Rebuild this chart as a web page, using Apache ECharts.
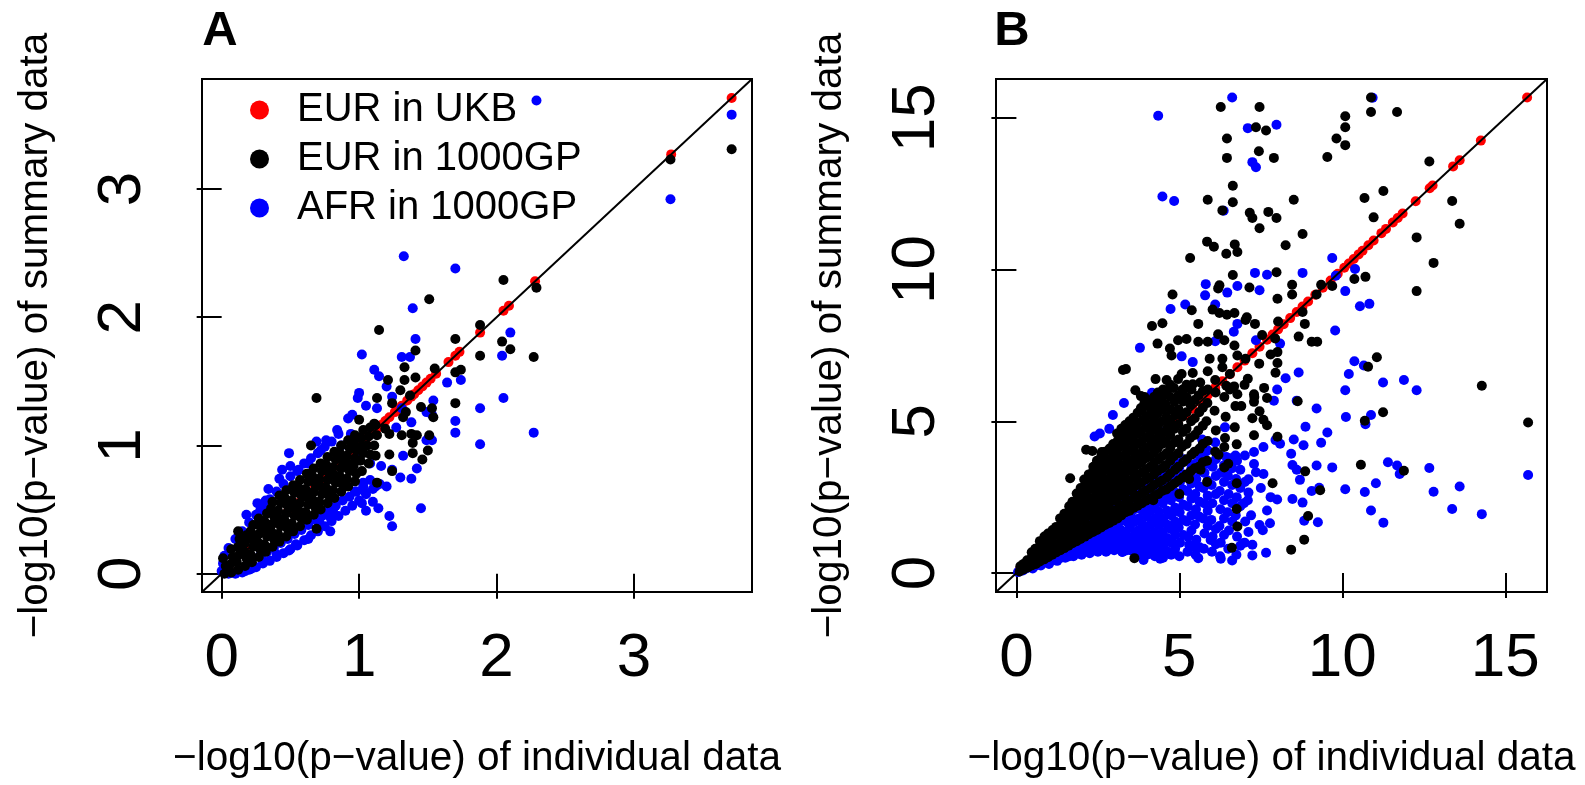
<!DOCTYPE html>
<html><head><meta charset="utf-8">
<script src="https://cdn.jsdelivr.net/npm/echarts@6/dist/echarts.min.js"></script>
<style>html,body{margin:0;padding:0;background:#fff}#c{width:1585px;height:785px}</style>
</head><body><div id="c"></div>
<script>
// ---------- axis ranges & ticks ----------
const rangeA = [-0.143, 3.858];
const rangeB = [-0.626, 16.28];
const ticksA = [0, 1, 2, 3];
const ticksB = [0, 5, 10, 15];
const seriesNames = ['EUR in UKB', 'EUR in 1000GP', 'AFR in 1000GP'];
const xTitle = '\u2212log10(p\u2212value) of individual data';
const yTitle = '\u2212log10(p\u2212value) of summary data';

// ---------- Panel A data ----------
// EUR in UKB: summary equals individual (y = x)
const redA = [3.71,3.27,2.28,2.09,2.05,1.88,1.73,1.70,1.65,1.56,1.52,1.49,1.46,1.43,1.40,1.38,1.35,1.31,1.28,1.26,1.22,1.19,1.16,1.14,1.10,1.05,1.0,0.95,0.9,0.85,0.8,0.74,0.68,0.62,0.55,0.48,0.4,0.33,0.25,0.18,0.1,0.05,0.02];
const blackOutA = [
[3.71,3.31],[3.265,3.23],[2.05,2.29],[2.29,2.23],[1.51,2.14],[1.145,1.90],[1.88,1.94],[1.70,1.83],[2.04,1.81],[2.10,1.75],[1.88,1.70],[2.27,1.69],[1.33,1.61],[1.55,1.60],[1.70,1.57],[1.74,1.59],[1.41,1.74],[1.21,1.51],[1.33,1.51],[1.41,1.53],[1.30,1.43],[1.37,1.39],[0.69,1.37],[1.13,1.37],[1.24,1.33],[1.70,1.33],[1.53,1.29],[1.54,1.22],[1.45,1.30],[1.34,1.26],[1.32,1.22],[1.00,1.20],[1.11,1.17],[1.19,1.13],[1.22,1.09],[1.31,1.08],[1.38,1.09],[1.42,1.08],[1.51,1.08],[1.50,0.96],[1.39,1.02],[1.39,0.94],[1.46,0.89],[1.22,0.93],[1.24,0.80],[1.13,0.71],[0.65,1.00],[0.69,0.35],[0.12,0.33]
];
const blackCoreA = [
[0.02,0.0],[0.03,0.06],[0.01,0.12],
[0.07,0.01],[0.06,0.07],[0.08,0.13],[0.07,0.19],
[0.12,0.03],[0.11,0.09],[0.13,0.15],[0.12,0.21],[0.13,0.27],
[0.17,0.06],[0.18,0.12],[0.16,0.18],[0.17,0.24],[0.18,0.3],
[0.22,0.09],[0.21,0.15],[0.23,0.21],[0.22,0.27],[0.21,0.33],[0.23,0.38],
[0.27,0.13],[0.28,0.19],[0.26,0.25],[0.27,0.31],[0.28,0.37],[0.27,0.43],
[0.32,0.17],[0.31,0.23],[0.33,0.29],[0.32,0.35],[0.31,0.41],[0.33,0.47],
[0.37,0.21],[0.38,0.27],[0.36,0.33],[0.37,0.39],[0.38,0.45],[0.36,0.51],[0.37,0.56],
[0.42,0.25],[0.41,0.31],[0.43,0.37],[0.42,0.43],[0.41,0.49],[0.43,0.55],[0.42,0.61],
[0.47,0.29],[0.48,0.35],[0.46,0.41],[0.47,0.47],[0.48,0.53],[0.46,0.59],[0.47,0.65],
[0.52,0.33],[0.51,0.39],[0.53,0.45],[0.52,0.51],[0.51,0.57],[0.53,0.63],[0.52,0.69],
[0.57,0.37],[0.58,0.43],[0.56,0.49],[0.57,0.55],[0.58,0.61],[0.56,0.67],[0.57,0.73],
[0.62,0.42],[0.61,0.48],[0.63,0.54],[0.62,0.6],[0.61,0.66],[0.63,0.72],[0.62,0.78],
[0.67,0.46],[0.68,0.52],[0.66,0.58],[0.67,0.64],[0.68,0.7],[0.66,0.76],[0.67,0.82],
[0.72,0.5],[0.71,0.56],[0.73,0.62],[0.72,0.68],[0.71,0.74],[0.73,0.8],[0.72,0.86],
[0.77,0.55],[0.78,0.61],[0.76,0.67],[0.77,0.73],[0.78,0.79],[0.76,0.85],[0.77,0.91],
[0.82,0.59],[0.81,0.65],[0.83,0.71],[0.82,0.77],[0.81,0.83],[0.83,0.89],[0.82,0.95],
[0.87,0.64],[0.88,0.7],[0.86,0.76],[0.87,0.82],[0.88,0.88],[0.86,0.94],[0.87,1.0],
[0.92,0.68],[0.91,0.74],[0.93,0.8],[0.92,0.86],[0.91,0.92],[0.93,0.98],[0.92,1.04],
[0.97,0.72],[0.98,0.78],[0.96,0.84],[0.97,0.9],[0.98,0.96],[0.96,1.02],[0.97,1.08],
[1.02,0.8],[1.01,0.88],[1.03,0.94],[1.02,1.0],[1.01,1.06],[1.03,1.12],
[1.07,0.86],[1.08,0.93],[1.06,1.0],[1.07,1.07],[1.08,1.14],
[1.12,0.92],[1.11,1.0],[1.13,1.08],[1.12,1.16]
];
const blueOutA = [
[2.29,3.69],[3.71,3.58],[3.265,2.92],[1.325,2.475],[1.70,2.38],[1.39,2.07],[2.10,1.88],[1.41,1.83],[1.02,1.71],[1.31,1.69],[1.37,1.69],[1.11,1.59],[1.145,1.54],[2.04,1.70],[1.64,1.49],[1.74,1.51],[1.20,1.46],[1.00,1.41],[0.99,1.37],[1.05,1.31],[1.13,1.29],[1.24,1.38],[2.05,1.37],[1.88,1.29],[1.54,1.35],[1.70,1.19],[1.70,1.10],[1.88,1.01],[2.27,1.10],[0.95,1.24],[0.84,1.12],[0.85,1.09],[0.94,1.09],[0.69,1.03],[0.49,0.94],[1.45,0.51],[1.24,0.37],[1.22,0.45],[1.14,0.51],[1.05,0.49],[1.10,0.56],[1.02,0.55],[1.03,0.65],[1.38,0.74],[1.30,0.75],[1.20,0.68],[1.12,0.68],[1.03,0.71],[0.88,0.73],[0.97,0.64],[1.49,1.04],[1.53,1.04],[1.32,0.92],[1.42,0.82],[1.24,0.81],[1.16,0.84],[1.08,0.86],[1.00,0.90],[0.81,0.49],[0.79,0.44],[0.79,0.33],[0.71,0.41],[0.63,0.27],[0.54,0.23],[0.49,0.18],[0.40,0.15],[0.30,0.10],[0.22,0.04],[0.17,0.02],[0.32,0.57],[0.28,0.49],[0.44,0.81],[0.56,0.81],[0.63,0.86],[0.72,0.96],[0.76,1.04],[0.87,1.00],[0.92,1.21],[1.31,1.29],[1.38,1.18],[1.27,1.14],[1.49,1.26],[1.53,1.24]
];
const blueCoreA = [
[0.0,0.02],[0.01,0.08],[0.02,0.14],[0.05,0.0],
[0.1,0.0],[0.15,0.01],[0.2,0.03],[0.25,0.05],[0.3,0.08],[0.35,0.1],[0.4,0.13],[0.45,0.16],[0.5,0.19],[0.55,0.22],[0.6,0.26],[0.65,0.3],[0.7,0.33],[0.75,0.37],[0.8,0.41],[0.85,0.45],[0.9,0.49],[0.95,0.53],[1.0,0.57],[1.05,0.62],[1.1,0.66],[1.15,0.7],
[0.28,0.14],[0.33,0.17],[0.38,0.2],[0.43,0.24],[0.48,0.27],[0.53,0.31],[0.58,0.34],[0.63,0.38],[0.68,0.42],[0.73,0.45],[0.78,0.49],[0.83,0.53],[0.88,0.57],[0.93,0.6],[0.98,0.64],[1.03,0.68],[1.08,0.73],
[0.05,0.2],[0.1,0.27],[0.15,0.33],[0.2,0.4],[0.25,0.46],[0.3,0.53],[0.35,0.58],[0.4,0.64],[0.45,0.7],[0.5,0.76],[0.55,0.8],[0.6,0.86],[0.65,0.9],[0.7,0.94],[0.75,0.99],[0.8,1.03],
[0.18,0.46],[0.26,0.55],[0.34,0.66],[0.42,0.74],[0.5,0.84]
];

// ---------- Panel B data ----------
const redB = [15.67,14.25,13.6,13.4,12.77,12.68,12.25,11.85,11.7,11.55,11.34,11.2,10.96,10.8,10.62,10.5,10.35,10.2,10.06,9.86,9.64,9.4,9.17,8.95,8.78,8.6,8.4,8.2,8.03,7.86,7.69,7.46,7.24,7.0,6.78,6.55,6.32,6.1,5.87,5.64,5.41,5.2,4.95,4.7,4.45,4.2,3.9,3.6,3.3,3.0,2.7,2.4,2.1,1.8,1.5,1.2,0.9,0.6,0.3,0.1];
const blueOutB = [
[0.05,0.03],[0.2,0.08],[0.3,0.15],[0.45,0.2],[0.6,0.25],[0.75,0.3],[0.9,0.4],[1.05,0.45],[1.2,0.5],[1.35,0.6],[1.5,0.65],[1.65,0.7],[1.8,0.8],[1.95,0.85],[2.1,0.9],[2.25,1.0],[2.4,1.1],[2.55,1.15],[2.7,1.0],[2.85,1.3],[3.0,1.2],
[2.45,0.74],[2.79,0.74],[2.33,0.86],[1.82,1.13],[2.0,0.63],[2.96,5.21],[2.56,4.6],[2.4,4.5],[2.85,4.75],
[3.25,0.69],[3.36,0.74],[3.59,0.86],[3.76,0.63],[3.82,1.08],[3.9,0.43],[3.53,4.77],[3.79,7.42],[3.3,5.6],
[4.16,0.63],[4.41,0.47],[4.79,0.99],[4.16,5.94],[4.22,5.61],[4.35,15.07],[4.48,12.41],[4.84,12.26],[4.73,8.7],[4.6,4.7],
[5.3,0.93],[5.47,0.86],[5.58,0.49],[5.96,1.09],[5.87,4.04],[5.7,4.4],[5.07,7.14],[5.41,6.95],[5.18,8.85],[5.79,9.15],[5.81,9.52],
[6.1,7.64],[6.1,8.85],[6.27,0.47],[6.44,3.82],[6.47,9.24],[6.55,3.78],[6.62,0.41],[6.62,15.67],[6.72,3.87],[6.78,9.46],[6.78,8.21],[6.67,7.95],[6.36,11.94],[6.1,4.3],[6.4,4.8],
[7.01,3.87],[7.1,14.66],[7.12,3.09],[7.24,13.54],[7.24,0.93],[7.24,0.58],[7.29,3.59],[7.29,3.99],[7.32,9.89],[7.35,13.37],[7.35,3.32],[7.35,7.67],[7.46,1.58],[7.46,9.32],[7.56,1.41],[7.58,3.26],[7.58,4.15],[7.66,0.67],[7.69,2.06],[7.69,9.83],[7.78,1.64],[7.95,4.38],[7.98,14.77],[7.9,5.68],[7.1,2.4],[7.5,2.8],[7.8,2.5],[7.2,1.9],
[8.0,2.42],[8.0,6.05],[8.09,4.26],[8.09,7.56],[8.26,6.42],[8.43,3.93],[8.47,3.56],[8.47,2.44],[8.51,4.4],[8.6,3.4],[8.6,5.68],[8.66,6.61],[8.7,3.07],[8.78,9.89],[8.78,2.32],[8.81,4.21],[8.83,1.72],[8.87,4.82],
[9.06,2.7],[9.21,3.54],[9.21,5.42],[9.25,1.67],[9.29,2.81],[9.35,4.29],[9.54,4.63],[9.69,3.48],[9.69,10.38],[9.78,7.99],[9.8,9.8],[10.09,2.76],[10.09,9.29],[10.09,6.02],[10.11,5.14],[10.2,6.56],[10.37,6.98],[10.39,10.02],[10.54,8.79],[10.66,6.84],[10.69,2.67],[10.71,4.9],[10.83,8.87],[10.88,5.21],[10.88,2.06],[11.03,2.96],[11.25,6.28],[11.26,1.66],[11.4,3.65],[11.68,3.54],[11.76,3.26],[11.89,6.36],[12.28,6.02],[12.67,3.46],[12.8,2.68],[13.37,2.11],[13.6,2.85],[14.28,1.94],[15.7,3.23],[10.93,15.66]
];
const blueCoreB = [
[0.5,0.15],[0.52,0.3],[0.75,0.25],[0.77,0.45],
[1.0,0.3],[1.02,0.55],[0.98,0.75],[1.25,0.4],[1.27,0.65],[1.23,0.9],
[1.5,0.5],[1.52,0.75],[1.48,1.0],[1.75,0.55],[1.77,0.85],[1.73,1.15],
[2.0,0.6],[2.02,0.9],[1.98,1.2],[2.01,1.45],[2.25,0.65],[2.27,0.95],[2.23,1.25],[2.26,1.55],
[2.5,0.7],[2.52,1.0],[2.48,1.3],[2.51,1.6],[2.49,1.85],[2.75,0.7],[2.77,1.05],[2.73,1.4],[2.76,1.75],[2.74,2.05],
[3.0,0.75],[3.02,1.1],[2.98,1.45],[3.01,1.8],[2.99,2.15],[3.25,0.7],[3.27,1.05],[3.23,1.4],[3.26,1.75],[3.24,2.1],[3.27,2.4],
[3.5,0.75],[3.52,1.1],[3.48,1.5],[3.51,1.9],[3.49,2.3],[3.52,2.6],[3.75,0.65],[3.77,1.0],[3.73,1.4],[3.76,1.8],[3.74,2.2],[3.77,2.6],[3.75,2.9],
[4.0,0.6],[4.02,1.0],[3.98,1.4],[4.01,1.85],[3.99,2.3],[4.02,2.75],[4.0,3.1],[4.25,0.55],[4.27,0.95],[4.23,1.35],[4.26,1.8],[4.24,2.25],[4.27,2.7],[4.25,3.2],
[4.5,0.5],[4.52,0.9],[4.48,1.35],[4.51,1.8],[4.49,2.3],[4.52,2.8],[4.5,3.3],[4.75,0.6],[4.77,1.0],[4.73,1.45],[4.76,1.9],[4.74,2.4],[4.77,2.9],[4.75,3.4],
[5.0,0.55],[5.02,1.0],[4.98,1.5],[5.01,2.0],[4.99,2.5],[5.02,3.0],[5.0,3.5],[5.25,0.7],[5.27,1.2],[5.23,1.7],[5.26,2.2],[5.24,2.7],[5.27,3.2],[5.25,3.7],
[5.5,0.6],[5.52,1.1],[5.48,1.6],[5.51,2.1],[5.49,2.6],[5.52,3.1],[5.5,3.6],[5.75,0.8],[5.77,1.3],[5.73,1.8],[5.76,2.3],[5.74,2.8],[5.77,3.3],[5.75,3.9],
[6.0,0.7],[6.02,1.2],[5.98,1.75],[6.01,2.3],[5.99,2.9],[6.02,3.5],[6.25,0.55],[6.27,1.0],[6.23,1.55],[6.26,2.1],[6.24,2.7],[6.27,3.3],[6.25,3.9],
[6.5,0.8],[6.52,1.4],[6.48,2.0],[6.51,2.6],[6.49,3.2],[6.75,0.6],[6.77,1.2],[6.73,1.9],[6.76,2.5],[6.74,3.1],[6.77,3.7],
[7.0,1.0],[7.02,1.7],[6.98,2.3],[7.01,3.0]
];
const blueFillB = [
[1.12,0.42],[1.12,0.68],[1.37,0.5],[1.37,0.78],[1.37,1.05],[1.62,0.55],[1.62,0.85],[1.62,1.12],
[1.87,0.7],[1.87,1.0],[1.87,1.3],[2.12,0.75],[2.12,1.08],[2.12,1.38],
[2.37,0.82],[2.37,1.15],[2.37,1.45],[2.37,1.72],[2.62,0.85],[2.62,1.2],[2.62,1.55],[2.62,1.9],
[2.87,0.9],[2.87,1.28],[2.87,1.62],[2.87,1.98],[2.87,2.3],[3.12,0.88],[3.12,1.25],[3.12,1.6],[3.12,1.98],[3.12,2.3],
[3.37,0.9],[3.37,1.28],[3.37,1.7],[3.37,2.1],[3.37,2.45],[3.62,0.85],[3.62,1.25],[3.62,1.68],[3.62,2.1],[3.62,2.5],[3.62,2.8],
[3.87,0.8],[3.87,1.2],[3.87,1.6],[3.87,2.05],[3.87,2.45],[3.87,2.85],[4.12,0.78],[4.12,1.18],[4.12,1.6],[4.12,2.05],[4.12,2.5],[4.12,2.95],
[4.37,0.7],[4.37,1.12],[4.37,1.58],[4.37,2.02],[4.37,2.5],[4.37,3.0],[4.37,3.4],
[4.62,0.72],[4.62,1.15],[4.62,1.6],[4.62,2.05],[4.62,2.55],[4.62,3.05],[4.62,3.55],
[4.87,0.8],[4.87,1.25],[4.87,1.7],[4.87,2.15],[4.87,2.65],[4.87,3.15],[4.87,3.65],
[5.12,1.25],[5.12,1.75],[5.12,2.25],[5.12,2.75],[5.12,3.25],[5.12,3.75],
[5.37,1.4],[5.37,1.9],[5.37,2.45],[5.37,2.95],[5.37,3.45],
[5.62,0.85],[5.62,1.85],[5.62,2.35],[5.62,2.85],[5.62,3.35],[5.62,3.85],
[5.87,1.55],[5.87,2.05],[5.87,2.55],[5.87,3.05],[5.87,3.6],
[6.12,0.95],[6.12,1.45],[6.12,2.6],[6.12,3.2],[6.12,3.75],
[6.37,1.25],[6.37,1.8],[6.37,2.4],[6.37,3.0],[6.37,3.55],
[6.62,1.7],[6.62,2.3],[6.62,2.9],[6.62,3.45],[6.87,0.9],[6.87,2.2],[6.87,2.8],[6.87,3.4],[7.12,1.35],[7.12,2.65]
];
const blackOutB = [
[6.27,15.36],[7.46,15.36],[10.88,15.67],[10.88,15.19],[11.68,15.19],[10.09,15.05],[7.35,14.69],[7.66,14.58],[10.09,14.69],[6.46,14.32],[9.82,14.32],[10.09,14.1],[7.44,13.9],[6.46,13.68],[7.9,13.68],[9.54,13.71],[12.67,13.56],[6.64,12.76],[5.87,12.3],[6.64,12.22],[6.32,11.95],[8.51,12.3],[10.68,12.36],[11.26,12.59],[13.37,12.26],[7.16,11.87],[7.24,11.7],[7.73,11.9],[7.98,11.7],[7.46,11.36],[10.96,11.72],[13.6,11.51],[8.78,11.17],[5.85,10.92],[6.06,10.75],[6.7,10.83],[6.78,10.58],[6.44,10.52],[8.26,10.8],[5.33,10.38],[12.28,11.06],[12.8,10.22],[6.64,9.82],[7.98,9.91],[10.71,9.76],[10.37,9.69],[12.28,9.29],[6.23,9.48],[6.19,9.38],[7.15,9.41],[8.46,9.5],[8.46,9.18],[9.35,9.5],[9.69,9.46],[9.21,9.18],[4.79,9.18],[8.01,9.04],[5.38,8.66],[6.02,8.68],[6.23,8.57],[6.46,8.51],[6.69,8.57],[7.03,8.34],[7.07,8.43],[7.32,8.21],[4.16,8.14],[4.48,8.23],[5.58,8.21],[8.78,8.6],[8.85,8.21],[8.03,8.29],[7.54,7.84],[7.94,7.73],[8.66,7.79],[9.06,7.62],[9.23,7.62],[4.33,7.56],[4.71,7.4],[4.76,7.17],[4.96,7.67],[5.22,7.71],[5.58,7.62],[5.87,7.62],[6.19,7.87],[6.38,7.67],[6.69,7.5],[5.93,7.06],[6.32,7.06],[6.78,7.17],[7.03,7.06],[8.01,6.92],[8.01,7.28],[3.27,6.69],[3.36,6.72],[5.87,6.65],[6.32,6.78],[6.55,6.56],[5.07,6.56],[5.41,6.59],[4.27,6.39],[4.61,6.36],[4.96,6.39],[5.64,6.28],[6.1,6.36],[6.44,6.17],[3.65,6.02],[3.82,5.83],[3.93,5.8],[4.5,6.05],[4.79,6.11],[5.13,6.05],[5.41,6.22],[5.87,6.05],[6.55,6.05],[6.78,5.89],[7.29,5.89],[7.29,5.64],[7.69,5.77],[8.63,5.66],[11.06,7.11],[10.79,6.8],[14.28,6.17],[11.25,5.3],[10.69,5.02],[15.7,4.96],[10.57,3.57],[11.89,3.37],[7.29,4.54],[6.76,4.24],[6.38,3.48],[6.76,2.96],[7.86,2.96],[8.86,3.35],[9.32,2.73],[6.76,2.11],[8.95,1.88],[6.78,1.53],[6.61,0.83],[8.83,1.1],[8.43,0.77],[3.62,0.49],[2.14,4.06],[1.65,3.12],[2.33,4.02],[2.62,3.99],[3.82,5.44],[3.93,5.61],[7.69,4.87],[7.58,5.05],[8.01,4.49],[7.24,5.1],[7.46,5.33],[6.38,4.15],
[7.1,6.4],[7.3,5.8],[7.45,6.9],[7.6,6.1],[7.8,7.2],[7.95,6.6],[6.9,5.5],[7.0,6.2],[6.5,3.6],[6.2,3.9],[5.65,3.4],[5.85,3.0],[5.3,3.1],[5.0,2.6],[4.2,2.4]
];
const blackCoreB = [
[0.1,0.05],[0.12,0.22],[0.35,0.18],[0.33,0.42],
[0.6,0.3],[0.62,0.55],[0.58,0.8],
[0.85,0.45],[0.87,0.7],[0.83,0.95],[0.86,1.2],
[1.1,0.6],[1.12,0.88],[1.08,1.15],[1.11,1.42],
[1.35,0.75],[1.37,1.02],[1.33,1.3],[1.36,1.57],[1.34,1.8],
[1.6,0.9],[1.62,1.18],[1.58,1.45],[1.61,1.72],[1.59,2.0],[1.62,2.2],
[1.85,1.05],[1.87,1.33],[1.83,1.6],[1.86,1.88],[1.84,2.15],[1.87,2.42],[1.85,2.62],
[2.1,1.2],[2.12,1.48],[2.08,1.76],[2.11,2.04],[2.09,2.32],[2.12,2.6],[2.1,2.85],[2.08,3.08],
[2.35,1.35],[2.37,1.63],[2.33,1.91],[2.36,2.19],[2.34,2.47],[2.37,2.75],[2.35,3.03],[2.33,3.3],[2.36,3.5],
[2.6,1.5],[2.62,1.8],[2.58,2.1],[2.61,2.4],[2.59,2.7],[2.62,3.0],[2.6,3.3],[2.58,3.6],[2.61,3.88],
[2.85,1.65],[2.87,1.95],[2.83,2.25],[2.86,2.55],[2.84,2.85],[2.87,3.15],[2.85,3.45],[2.83,3.75],[2.86,4.1],
[3.1,1.8],[3.12,2.12],[3.08,2.44],[3.11,2.76],[3.09,3.08],[3.12,3.4],[3.1,3.72],[3.08,4.04],[3.11,4.36],[3.09,4.6],
[3.35,2.0],[3.37,2.32],[3.33,2.64],[3.36,2.96],[3.34,3.28],[3.37,3.6],[3.35,3.92],[3.33,4.24],[3.36,4.56],[3.34,4.88],
[3.6,2.15],[3.62,2.48],[3.58,2.81],[3.61,3.14],[3.59,3.47],[3.62,3.8],[3.6,4.13],[3.58,4.46],[3.61,4.8],[3.59,5.12],
[3.85,2.3],[3.87,2.64],[3.83,2.98],[3.86,3.32],[3.84,3.66],[3.87,4.0],[3.85,4.34],[3.83,4.68],[3.86,5.02],[3.84,5.38],
[4.1,2.45],[4.12,2.8],[4.08,3.15],[4.11,3.5],[4.09,3.85],[4.12,4.2],[4.1,4.55],[4.08,4.9],[4.11,5.25],[4.09,5.62],
[4.35,2.6],[4.37,2.98],[4.33,3.36],[4.36,3.74],[4.34,4.12],[4.37,4.5],[4.35,4.88],[4.33,5.26],[4.36,5.64],[4.34,5.95],
[4.6,2.75],[4.62,3.15],[4.58,3.55],[4.61,3.95],[4.59,4.35],[4.62,4.75],[4.6,5.15],[4.58,5.55],[4.61,5.95],
[4.85,2.95],[4.87,3.4],[4.83,3.85],[4.86,4.3],[4.84,4.75],[4.87,5.2],[4.85,5.65],[4.83,6.1],
[5.1,3.15],[5.12,3.65],[5.08,4.15],[5.11,4.65],[5.09,5.15],[5.12,5.65],[5.1,6.05],
[5.35,3.35],[5.37,3.9],[5.33,4.45],[5.36,5.0],[5.34,5.55],[5.37,6.05],
[5.6,3.5],[5.62,4.1],[5.58,4.7],[5.61,5.3],[5.59,5.85],
[5.85,3.7],[5.87,4.35],[5.83,5.0],[5.86,5.6],
[6.1,4.0],[6.12,4.7],[6.08,5.35],[6.11,5.95],
[6.4,4.45],[6.42,5.15],[6.38,5.8],
[6.7,4.8],[6.72,5.5],[6.68,6.15]
];
const blackFillB = [
[0.22,0.12],[0.22,0.3],[0.47,0.25],[0.47,0.5],[0.47,0.68],
[0.72,0.38],[0.72,0.62],[0.72,0.88],[0.72,1.05],[0.97,0.52],[0.97,0.78],[0.97,1.05],[0.97,1.3],
[1.22,0.68],[1.22,0.95],[1.22,1.25],[1.22,1.52],[1.47,0.82],[1.47,1.1],[1.47,1.38],[1.47,1.65],[1.47,1.95],
[1.72,0.98],[1.72,1.25],[1.72,1.55],[1.72,1.85],[1.72,2.1],[1.72,2.35],
[1.97,1.12],[1.97,1.42],[1.97,1.72],[1.97,2.0],[1.97,2.3],[1.97,2.55],[1.97,2.8],
[2.22,1.28],[2.22,1.58],[2.22,1.9],[2.22,2.18],[2.22,2.48],[2.22,2.78],[2.22,3.0],[2.22,3.25],
[2.47,1.42],[2.47,1.72],[2.47,2.02],[2.47,2.32],[2.47,2.62],[2.47,2.92],[2.47,3.2],[2.47,3.45],[2.47,3.7],
[2.72,1.58],[2.72,1.9],[2.72,2.2],[2.72,2.5],[2.72,2.8],[2.72,3.1],[2.72,3.4],[2.72,3.7],[2.72,4.0],
[2.97,1.72],[2.97,2.05],[2.97,2.38],[2.97,2.7],[2.97,3.0],[2.97,3.3],[2.97,3.62],[2.97,3.95],[2.97,4.25],
[3.22,1.9],[3.22,2.22],[3.22,2.55],[3.22,2.88],[3.22,3.2],[3.22,3.52],[3.22,3.85],[3.22,4.18],[3.22,4.5],[3.22,4.75],
[3.47,2.05],[3.47,2.4],[3.47,2.72],[3.47,3.05],[3.47,3.38],[3.47,3.7],[3.47,4.02],[3.47,4.35],[3.47,4.7],[3.47,5.0],
[3.72,2.22],[3.72,2.55],[3.72,2.9],[3.72,3.25],[3.72,3.58],[3.72,3.9],[3.72,4.25],[3.72,4.6],[3.72,4.95],[3.72,5.28],
[3.97,2.38],[3.97,2.72],[3.97,3.08],[3.97,3.42],[3.97,3.78],[3.97,4.12],[3.97,4.45],[3.97,4.8],[3.97,5.15],[3.97,5.5],
[4.22,2.52],[4.22,2.9],[4.22,3.25],[4.22,3.62],[4.22,3.98],[4.22,4.35],[4.22,4.72],[4.22,5.1],[4.22,5.45],[4.22,5.8],
[4.47,2.7],[4.47,3.05],[4.47,3.45],[4.47,3.85],[4.47,4.25],[4.47,4.62],[4.47,5.0],[4.47,5.4],[4.47,5.8],
[4.72,2.85],[4.72,3.28],[4.72,3.7],[4.72,4.12],[4.72,4.55],[4.72,4.98],[4.72,5.4],[4.72,5.8],[4.72,6.2],
[4.97,3.05],[4.97,3.5],[4.97,3.95],[4.97,4.4],[4.97,4.9],[4.97,5.4],[4.97,5.85],
[5.22,3.25],[5.22,3.75],[5.22,4.25],[5.22,4.75],[5.22,5.3],[5.22,5.8],[5.22,6.2],
[5.47,3.45],[5.47,4.0],[5.47,4.55],[5.47,5.1],[5.47,5.7],
[5.72,3.65],[5.72,4.25],[5.72,4.85],[5.72,5.45],[5.72,6.0]
];

// ---------- chart ----------
const FONT = '"Liberation Sans", Arial, Helvetica, sans-serif';
const chart = echarts.init(document.getElementById('c'), null, {renderer: 'canvas'});

function xAxisCfg(gridIndex, range, ticks) {
  return {
    type: 'value', gridIndex, min: range[0], max: range[1],
    axisLine: {show: false},
    splitLine: {show: false},
    axisTick: {show: true, inside: false, length: 25, customValues: ticks, lineStyle: {color: '#000', width: 2}},
    axisLabel: {customValues: ticks, margin: 36, fontSize: 62, color: '#000', fontFamily: FONT, hideOverlap: false},
    name: xTitle, nameLocation: 'middle', nameGap: 146, nameMoveOverlap: false,
    nameTextStyle: {fontSize: 40.5, color: '#000', fontFamily: FONT}
  };
}
function yAxisCfg(gridIndex, range, ticks) {
  return {
    type: 'value', gridIndex, min: range[0], max: range[1],
    axisLine: {show: false},
    splitLine: {show: false},
    axisTick: {show: true, inside: false, length: 25, customValues: ticks, lineStyle: {color: '#000', width: 2}},
    axisLabel: {customValues: ticks, rotate: 90, margin: 48, fontSize: 62, color: '#000', fontFamily: FONT, hideOverlap: false},
    name: yTitle, nameLocation: 'middle', nameGap: 146, nameRotate: 90, nameMoveOverlap: false,
    nameTextStyle: {fontSize: 40.5, color: '#000', fontFamily: FONT}
  };
}
function scatter(name, color, data, idx) {
  return {name, type: 'scatter', xAxisIndex: idx, yAxisIndex: idx, data,
    symbol: 'circle', symbolSize: 10, itemStyle: {color, opacity: 1}, emphasis: {disabled: true}, silent: true};
}
function diag(range, idx) {
  return {type: 'line', xAxisIndex: idx, yAxisIndex: idx, data: [[range[0], range[0]], [range[1], range[1]]],
    symbol: 'none', lineStyle: {color: '#000', width: 2}, silent: true, clip: true, z: 5};
}

const option = {
  animation: false,
  backgroundColor: '#fff',
  textStyle: {fontFamily: FONT},
  grid: [
    {left: 202, top: 79, width: 550, height: 513, show: true, borderColor: '#000', borderWidth: 2, backgroundColor: 'transparent', containLabel: false, outerBoundsMode: 'none'},
    {left: 996, top: 79, width: 551, height: 513, show: true, borderColor: '#000', borderWidth: 2, backgroundColor: 'transparent', containLabel: false, outerBoundsMode: 'none'}
  ],
  xAxis: [xAxisCfg(0, rangeA, ticksA), xAxisCfg(1, rangeB, ticksB)],
  yAxis: [yAxisCfg(0, rangeA, ticksA), yAxisCfg(1, rangeB, ticksB)],
  legend: {
    data: seriesNames, orient: 'vertical', left: 250, top: 90, padding: 0,
    itemWidth: 65, itemHeight: 19, itemGap: 9, icon: 'circle', selectedMode: false,
    textStyle: {fontSize: 40, color: '#000', fontFamily: FONT}
  },
  graphic: [
    {type: 'text', x: 220, y: 31, style: {text: 'A', font: 'bold 49px ' + FONT, fill: '#000', textAlign: 'center', textVerticalAlign: 'middle'}},
    {type: 'text', x: 1012, y: 31, style: {text: 'B', font: 'bold 49px ' + FONT, fill: '#000', textAlign: 'center', textVerticalAlign: 'middle'}}
  ],
  series: [
    scatter(seriesNames[0], '#ff0000', redA.map(v => [v, v]), 0),
    scatter(seriesNames[2], '#0000ff', blueCoreA.concat(blueOutA), 0),
    scatter(seriesNames[1], '#000000', blackCoreA.concat(blackOutA), 0),
    diag(rangeA, 0),
    scatter(seriesNames[0], '#ff0000', redB.map(v => [v, v]), 1),
    scatter(seriesNames[2], '#0000ff', blueCoreB.concat(blueFillB, blueOutB), 1),
    scatter(seriesNames[1], '#000000', blackCoreB.concat(blackFillB, blackOutB), 1),
    diag(rangeB, 1)
  ]
};
chart.setOption(option);
</script></body></html>
